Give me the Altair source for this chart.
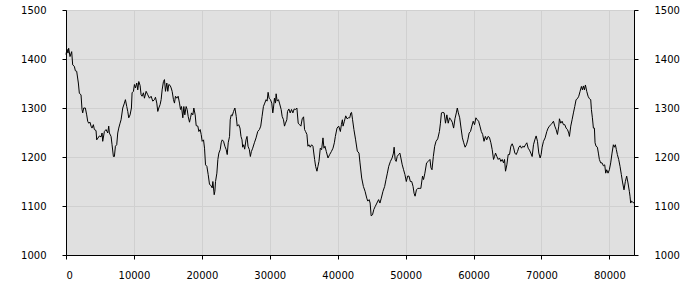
import altair as alt
import pandas as pd

# Series (x position, value)
X_VALUES = [
    0, 147, 295, 393, 590, 835, 983, 1229, 1376, 1572, 1818, 1966, 2211, 2359, 2457, 2604, 2850,
    3047, 3194, 3342, 3538, 3686, 3833, 4029, 4177, 4423, 4521, 4914, 5160, 5307, 5405, 5651, 5897,
    6142, 6290, 6388, 6634, 6781, 6978, 7125, 7273, 7469, 7617, 7764, 7961, 8108, 8354, 8600, 8747,
    8944, 9091, 9238, 9435, 9631, 9730, 9926, 10074, 10221, 10418, 10565, 10713, 10909, 11057, 11204,
    11400, 11548, 11794, 12039, 12285, 12531, 12776, 13022, 13170, 13366, 13514, 13661, 13857, 14005,
    14152, 14349, 14496, 14644, 14840, 14988, 15135, 15332, 15479, 15627, 15823, 15971, 16118, 16314,
    16511, 16708, 16855, 17002, 17199, 17346, 17494, 17690, 17838, 17985, 18182, 18329, 18477, 18673,
    18821, 19017, 19165, 19410, 19558, 19754, 19902, 20049, 20246, 20393, 20541, 20738, 20934, 21130,
    21327, 21523, 21622, 21818, 21916, 22015, 22211, 22359, 22506, 22703, 22850, 22997, 23194, 23391,
    23587, 23735, 23882, 24079, 24177, 24324, 24472, 24668, 24864, 25061, 25209,
    25419, 25616, 25763, 25911, 26010, 26158, 26305, 26502, 26650, 26798, 26995, 27143, 27290, 27488,
    27734, 27980, 28226, 28473, 28670, 28867, 29064, 29261, 29458, 29606, 29753, 29901, 30098, 30295,
    30443, 30542, 30690, 30837, 30936, 31084, 31281, 31428, 31675, 31822, 32019, 32167, 32315, 32512,
    32611, 32808, 33005, 33202, 33399, 33596, 33793, 33990, 34187, 34384, 34581, 34778, 34975, 35123,
    35271, 35468, 35615, 35763, 35960, 36157, 36354, 36601, 36748, 36945, 37093, 37241, 37438, 37635,
    37832, 37980, 38128, 38325, 38571, 38817, 39064, 39310, 39507, 39655, 39901, 40147, 40394, 40542,
    40689, 40788, 40985, 41182, 41379, 41576, 41773,
    41940, 42040, 42189, 42388, 42637, 42886, 43135, 43284, 43533, 43781, 44030, 44279, 44428, 44627,
    44776, 44925, 45124, 45323, 45522, 45771, 46020, 46219, 46418, 46667, 46915, 47114, 47313, 47512,
    47761, 48010, 48209, 48308, 48458, 48607, 48756, 48955, 49154, 49303, 49502, 49701, 49900, 50100,
    50299, 50498, 50697, 50896, 51095, 51244, 51393, 51592, 51791, 51990, 52239, 52488, 52637, 52836,
    53085, 53333, 53582, 53731, 53881, 54080, 54279, 54478, 54726, 54975, 55124, 55274, 55473, 55672,
    55871, 56070, 56269, 56468, 56667, 56866, 57065, 57264, 57463, 57612, 57761, 57960, 58159, 58358,
    58557, 58756, 58955, 59154, 59353, 59552, 59751, 59950, 60149, 60348, 60547, 60746, 60945, 61144,
    61343, 61542, 61741, 61940, 62139, 62338,
    62552, 62748, 62944, 63091, 63238, 63434, 63630, 63826, 64022, 64218, 64414, 64561, 64708, 64904,
    65100, 65296, 65492, 65688, 65884, 66080, 66276, 66472, 66668, 66864, 67060, 67256, 67452, 67648,
    67844, 68040, 68236, 68432, 68628, 68824, 69020, 69216, 69412, 69608, 69804, 69951, 70098, 70294,
    70539, 70784, 70980, 71176, 71372, 71568, 71764, 71960, 72156, 72352, 72548, 72646, 72842, 73038,
    73234, 73430, 73626, 73822, 74018, 74116, 74312, 74508, 74704, 74900, 75096, 75292, 75488, 75684,
    75880, 76027, 76174, 76321, 76468, 76664, 76860, 77056, 77252, 77350, 77497, 77644, 77791, 77889,
    78036, 78232, 78379, 78526, 78722, 78918, 79114, 79310, 79457, 79604, 79800, 79996, 80192, 80388,
    80584, 80731, 80878, 81025, 81172, 81368, 81564, 81760, 81956, 82152, 82348, 82544, 82740, 82936,
    83034, 83132, 83279, 83426, 83622,
]

Y_VALUES = [
    1409, 1420, 1412, 1422, 1405, 1415, 1388, 1385, 1376, 1375, 1351, 1330, 1327, 1297, 1290, 1300, 1300,
    1286, 1273, 1269, 1271, 1263, 1259, 1266, 1256, 1254, 1235, 1243, 1241, 1249, 1232, 1252, 1256,
    1249, 1263, 1249, 1242, 1225, 1201, 1201, 1222, 1225, 1249, 1259, 1269, 1276, 1300, 1310, 1317,
    1303, 1293, 1280, 1286, 1300, 1331, 1334, 1348, 1341, 1351, 1337, 1354, 1346, 1327, 1324,
    1331, 1320, 1334, 1327, 1320, 1324, 1314, 1317, 1322, 1310, 1293, 1300, 1307, 1317,
    1337, 1354, 1358, 1334, 1351, 1334, 1348, 1346, 1341, 1334, 1317, 1310, 1324, 1320,
    1324, 1310, 1297, 1303, 1280, 1303, 1286, 1303, 1297, 1283, 1271, 1280, 1290, 1286,
    1300, 1286, 1264, 1263, 1252, 1256, 1246, 1232, 1235, 1218, 1184, 1181, 1164, 1144,
    1142, 1137, 1150, 1123, 1130, 1150, 1167, 1195, 1208, 1215, 1229, 1235, 1232, 1222,
    1215, 1205, 1229, 1242, 1276, 1286, 1284, 1293, 1300, 1283, 1263,
    1266, 1259, 1242, 1235, 1220, 1225, 1216, 1235, 1242, 1222, 1215, 1201, 1211, 1218,
    1229, 1239, 1252, 1256, 1263, 1283, 1303, 1310, 1317, 1314, 1332, 1320, 1317, 1310,
    1290, 1300, 1320, 1310, 1329, 1314, 1317, 1310, 1297, 1283, 1276, 1263, 1269, 1276,
    1293, 1298, 1290, 1297, 1290, 1298, 1297, 1300, 1269, 1266, 1263, 1278, 1282, 1256,
    1252, 1246, 1222, 1225, 1220, 1225, 1222, 1195, 1181, 1171, 1181, 1191, 1218, 1215,
    1239, 1218, 1222, 1211, 1198, 1205, 1211, 1218, 1229, 1242, 1259, 1263, 1252, 1266,
    1276, 1263, 1273, 1284, 1278, 1280, 1280,
    1290, 1291, 1276, 1256, 1235, 1212, 1208, 1188, 1157, 1140, 1130, 1116, 1110, 1113,
    1106, 1080, 1082, 1093, 1099, 1106, 1113, 1106, 1116, 1130, 1140, 1154, 1167, 1181,
    1191, 1198, 1208, 1220, 1195, 1191, 1201, 1205, 1208, 1198, 1184, 1174, 1164, 1150,
    1161, 1161, 1150, 1150, 1140, 1126, 1120, 1133, 1136, 1136, 1136, 1161, 1154, 1167,
    1188, 1191, 1195, 1178, 1174, 1201, 1222, 1232, 1237, 1252, 1269, 1290, 1291, 1290,
    1269, 1286, 1269, 1280, 1276, 1271, 1259, 1278, 1290, 1300, 1290, 1280, 1259, 1239,
    1229, 1220, 1225, 1235, 1249, 1252, 1263, 1273, 1266, 1280, 1276, 1273, 1263, 1252,
    1246, 1232, 1242, 1235, 1242, 1240,
    1229, 1215, 1195, 1201, 1208, 1201, 1195, 1198, 1191, 1195, 1188, 1195, 1171, 1184,
    1205, 1205, 1222, 1227, 1220, 1208, 1205, 1211, 1220, 1223, 1218, 1222, 1220, 1225,
    1229, 1218, 1214, 1208, 1201, 1225, 1235, 1243, 1232, 1208, 1198, 1205, 1220, 1232,
    1239, 1252, 1259, 1263, 1266, 1269, 1273, 1263, 1256, 1246, 1263, 1278, 1269, 1273,
    1266, 1266, 1259, 1256, 1249, 1242, 1263, 1276, 1290, 1303, 1317, 1319, 1324, 1334,
    1344, 1337, 1345, 1337, 1347, 1334, 1324, 1319, 1317, 1297, 1280, 1259, 1259, 1229,
    1222, 1220, 1208, 1195, 1188, 1188, 1182, 1184, 1167, 1174, 1167, 1174, 1188, 1208,
    1225, 1220, 1225, 1215, 1205, 1195, 1181, 1164, 1147, 1133, 1150, 1161, 1147, 1130,
    1120, 1106, 1110, 1108, 1106,
]

X_TICKS = [0, 10000, 20000, 30000, 40000, 50000, 60000, 70000, 80000]
Y_TICKS = [1000, 1100, 1200, 1300, 1400, 1500]
Y_DOMAIN = [1000, 1500]

df = pd.DataFrame({"x": X_VALUES, "y": Y_VALUES})

FONT = "DejaVu Sans"

x_enc = alt.X(
    "x:Q",
    scale=alt.Scale(domain=[0, max(X_VALUES)], nice=False, zero=True),
    axis=alt.Axis(
        values=X_TICKS, format="d", title=None, grid=True, gridColor="#d0d0d0",
        tickColor="black", tickSize=4, domainColor="black", labelFont=FONT,
        labelFontSize=10, labelColor="black", labelPadding=11,
    ),
)

base = alt.Chart(df)

line = base.mark_line(color="black", strokeWidth=1).encode(
    x=x_enc,
    y=alt.Y(
        "y:Q",
        scale=alt.Scale(domain=Y_DOMAIN, nice=False, zero=False),
        axis=alt.Axis(
            orient="left", values=Y_TICKS, format="d", title=None, grid=True,
            gridColor="#d0d0d0", tickColor="black", tickSize=4, domainColor="black",
            labelFont=FONT, labelFontSize=10, labelColor="black", labelPadding=16,
        ),
    ),
)

right = base.mark_line(opacity=0).encode(
    x=alt.X("x:Q", scale=alt.Scale(domain=[0, max(X_VALUES)], nice=False, zero=True)),
    y=alt.Y(
        "y:Q",
        scale=alt.Scale(domain=Y_DOMAIN, nice=False, zero=False),
        axis=alt.Axis(
            orient="right", values=Y_TICKS, format="d", title=None, grid=False,
            tickColor="black", tickSize=4, domainColor="black", labelFont=FONT,
            labelFontSize=10, labelColor="black", labelPadding=16,
        ),
    ),
)

chart = (
    alt.layer(line, right)
    .resolve_axis(y="independent")
    .properties(
        width=568,
        height=245,
        autosize="none",
        padding={"left": 66, "top": 10, "right": 66, "bottom": 45},
        background="white",
    )
    .configure_view(fill="#e0e0e0", stroke="black", strokeWidth=1)
)

chart.save("out.html", embed_options={"renderer": "svg", "actions": False})
